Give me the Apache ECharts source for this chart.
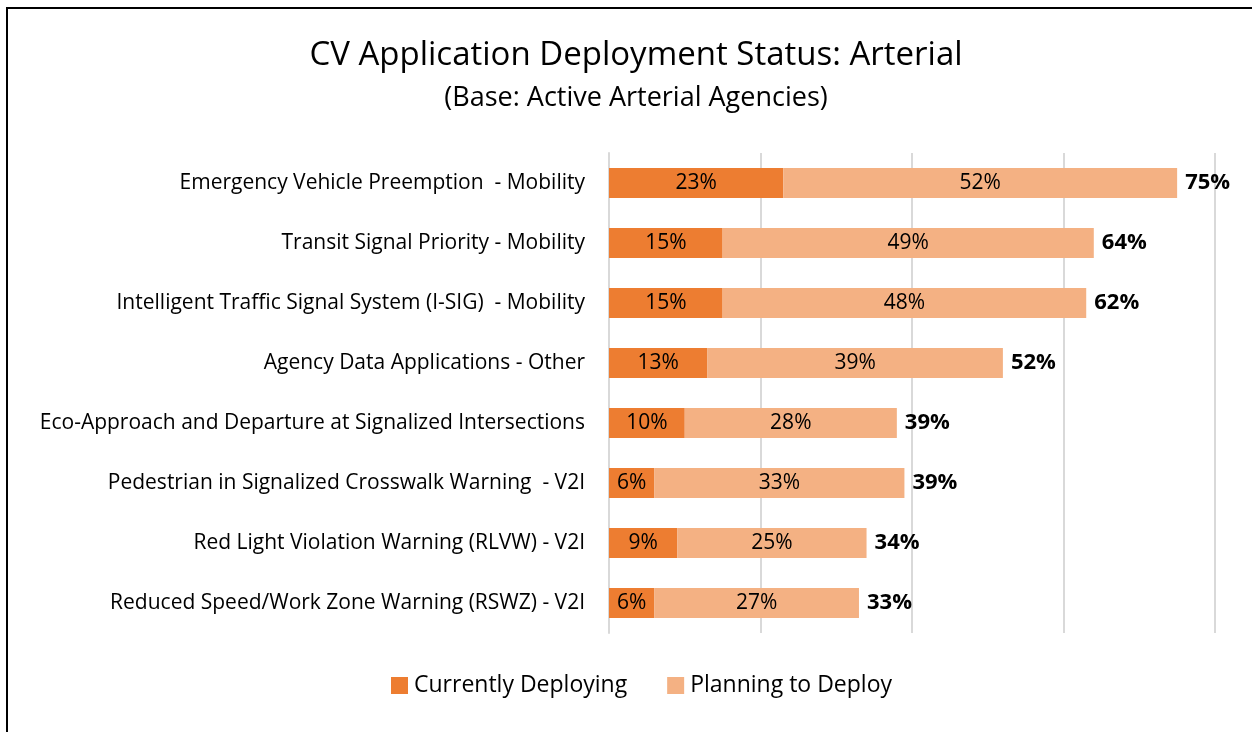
<!DOCTYPE html>
<html>
<head>
<meta charset="utf-8">
<script src="https://cdn.jsdelivr.net/npm/echarts@6/dist/echarts.min.js"></script>
<style>
  html, body { margin: 0; padding: 0; background: #fff; }
  #chart { width: 1252px; height: 732px; }
  #frame { position: absolute; left: 6px; top: 7px; width: 1300px; height: 800px; border: 2px solid #000; pointer-events: none; }
</style>
</head>
<body>
<div id="chart"></div>
<div id="frame"></div>
<script>
// categories top -> bottom
var categories = [
  'Emergency Vehicle Preemption  - Mobility',
  'Transit Signal Priority - Mobility',
  'Intelligent Traffic Signal System (I-SIG)  - Mobility',
  'Agency Data Applications - Other',
  'Eco-Approach and Departure at Signalized Intersections',
  'Pedestrian in Signalized Crosswalk Warning  - V2I',
  'Red Light Violation Warning (RLVW) - V2I',
  'Reduced Speed/Work Zone Warning (RSWZ) - V2I'
];
var currentlyDeploying = [23, 15, 15, 13, 10, 6, 9, 6];
var planningToDeploy = [52, 49, 48, 39, 28, 33, 25, 27];
var totals = [75, 64, 62, 52, 39, 39, 34, 33];

var font = 'Open Sans';
var chart = echarts.init(document.getElementById('chart'));
chart.setOption({
  animation: false,
  textStyle: { fontFamily: font },
  title: {
    text: 'CV Application Deployment Status: Arterial',
    subtext: '(Base: Active Arterial Agencies)',
    left: 631,
    textAlign: 'center',
    top: 34,
    itemGap: 13,
    textStyle: { fontFamily: font, fontSize: 33, fontWeight: 'normal', color: '#000' },
    subtextStyle: { fontFamily: font, fontSize: 27, color: '#000' }
  },
  legend: {
    data: ['Currently Deploying', 'Planning to Deploy'],
    bottom: 30,
    left: 386,
    itemWidth: 17,
    itemHeight: 17,
    itemGap: 40,
    icon: 'rect',
    textStyle: { fontFamily: font, fontSize: 23, color: '#000', padding: [0, 0, 0, 1] }
  },
  grid: { left: 609, right: 37, top: 153, bottom: 99, containLabel: false },
  xAxis: {
    type: 'value',
    min: 0,
    max: 80,
    interval: 20,
    axisLabel: { show: false },
    axisLine: { show: false },
    axisTick: { show: false },
    splitLine: { lineStyle: { color: '#d9d9d9', width: 2 } }
  },
  yAxis: {
    type: 'category',
    inverse: true,
    data: categories,
    axisLine: { lineStyle: { color: '#d9d9d9', width: 2 } },
    axisTick: { length: 6, lineStyle: { color: '#d9d9d9', width: 2 } },
    axisLabel: { margin: 24, fontFamily: font, fontSize: 21, color: '#000' }
  },
  series: [
    {
      name: 'Currently Deploying',
      type: 'bar',
      stack: 'total',
      barWidth: 30,
      itemStyle: { color: '#ED7D31' },
      label: { show: true, position: 'inside', formatter: '{c}%', fontFamily: font, fontSize: 21, color: '#000' },
      data: currentlyDeploying
    },
    {
      name: 'Planning to Deploy',
      type: 'bar',
      stack: 'total',
      barWidth: 30,
      itemStyle: { color: '#F4B183' },
      label: { show: true, position: 'inside', formatter: '{c}%', fontFamily: font, fontSize: 21, color: '#000' },
      data: planningToDeploy
    },
    {
      name: 'Total',
      type: 'bar',
      stack: 'total',
      barWidth: 30,
      itemStyle: { color: 'transparent' },
      label: {
        show: true,
        position: 'right',
        distance: 8,
        formatter: function (p) { return totals[p.dataIndex] + '%'; },
        fontFamily: font, fontSize: 22, fontWeight: 'bold', color: '#000'
      },
      data: totals.map(function () { return 0; })
    }
  ]
});
</script>
</body>
</html>
